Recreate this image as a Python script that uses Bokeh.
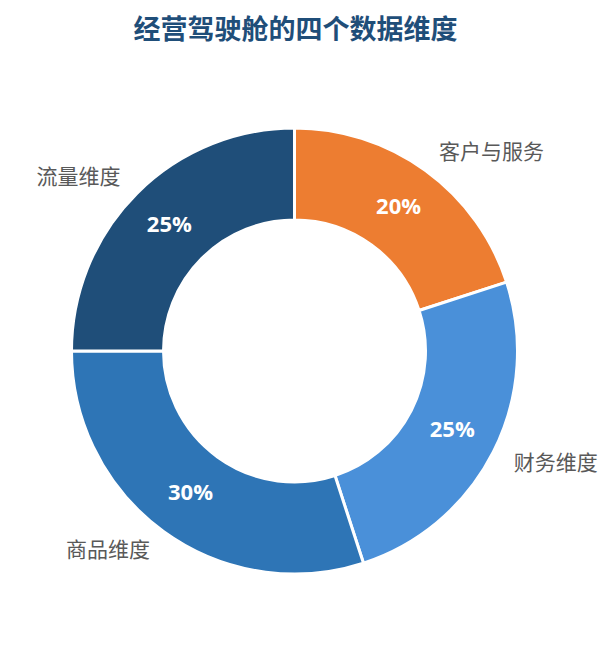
import numpy as np
from bokeh.plotting import figure
from bokeh.models import ColumnDataSource
from bokeh.core.properties import value
from bokeh.embed import file_html
from bokeh.resources import INLINE

title = "经营驾驶舱的四个数据维度"
categories = ["客户与服务", "财务维度", "商品维度", "流量维度"]
shares = [20, 25, 30, 25]
colors = ["#ED7D31", "#4A90D9", "#2E75B6", "#1F4E79"]

W, H = 604, 637
cx, cy = 294, H - 350.5
r_out, r_in = 223, 131
r_pct = (r_out + r_in) / 2
r_lab = 246

vals = np.array(shares, dtype=float)
frac = vals / vals.sum()
cum = np.concatenate([[0], np.cumsum(frac)])
start = np.pi / 2 - cum[:-1] * 2 * np.pi
end = np.pi / 2 - cum[1:] * 2 * np.pi
mid = (start + end) / 2

src = ColumnDataSource(dict(
    start=start, end=end, color=colors,
    px=cx + r_pct * np.cos(mid), py=cy + r_pct * np.sin(mid),
    pct=[f"{int(v)}%" for v in shares],
    lx=cx + r_lab * np.cos(mid), ly=cy + r_lab * np.sin(mid),
    cat=categories,
    align=["left" if np.cos(m) >= 0 else "right" for m in mid],
))

p = figure(width=W, height=H, x_range=(0, W), y_range=(0, H),
           output_backend="svg", toolbar_location=None, min_border=0)
p.axis.visible = False
p.grid.visible = False
p.outline_line_color = None
p.background_fill_color = "white"

p.annular_wedge(x=cx, y=cy, inner_radius=r_in, outer_radius=r_out,
                start_angle="start", end_angle="end", direction="clock",
                fill_color="color", line_color="white", line_width=3, source=src)

p.text(x="px", y="py", text="pct", source=src, text_color="white",
       text_font=value("Open Sans"), text_font_style="bold", text_font_size="22px",
       text_align="center", text_baseline="middle", y_offset=-3)

p.text(x="lx", y="ly", text="cat", source=src, text_color="#595959",
       text_font=value("Noto Sans CJK SC"), text_font_size="21px",
       text_align="align", text_baseline="middle", y_offset=-2)

p.text(x=[295], y=[H - 30], text=[title], text_color="#1F4E79",
       text_font=value("Noto Sans CJK SC"), text_font_style="bold",
       text_font_size="27px", text_align="center", text_baseline="middle", y_offset=-3)

open("out.html", "w").write(file_html(p, INLINE))
